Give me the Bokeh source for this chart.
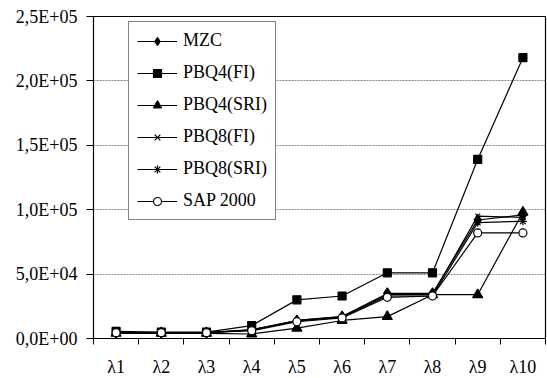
from bokeh.plotting import figure
from bokeh.models import FixedTicker, Legend, LegendItem
from bokeh.embed import file_html
from bokeh.resources import INLINE

categories = ["λ1", "λ2", "λ3", "λ4", "λ5", "λ6", "λ7", "λ8", "λ9", "λ10"]
mzc = [4500, 4500, 4500, 7000, 14000, 17000, 35000, 35000, 92000, 96000]
pbq4_fi = [5500, 5000, 5000, 10000, 30000, 33000, 51000, 51000, 139000, 218000]
pbq4_sri = [4000, 4000, 4000, 3500, 8000, 14000, 17000, 34000, 34000, 98000]
pbq8_fi = [4500, 4500, 4500, 6500, 14000, 17000, 34000, 34000, 95000, 94000]
pbq8_sri = [4500, 4500, 4500, 6500, 13500, 16500, 33000, 33000, 90000, 91000]
sap2000 = [4500, 4500, 4500, 6000, 13000, 16000, 32000, 33000, 82000, 82000]

y_ticks = [0, 50000, 100000, 150000, 200000, 250000]
y_labels = ["0,0E+00", "5,0E+04", "1,0E+05", "1,5E+05", "2,0E+05", "2,5E+05"]

xs = list(range(1, len(categories) + 1))
FONT = "Liberation Serif"

p = figure(width=547, height=378, output_backend="svg", toolbar_location=None,
           x_range=(0.5, 10.5), y_range=(0, 250000),
           frame_width=452, frame_height=322,
           min_border_left=93, min_border_top=16, min_border_right=2, min_border_bottom=40)
p.background_fill_color = "white"
p.border_fill_color = "white"
p.outline_line_color = "black"
p.outline_line_width = 1.2

# x axis
p.xaxis.ticker = FixedTicker(ticks=xs, minor_ticks=[x + 0.5 for x in range(0, 11)])
p.xaxis.major_label_overrides = {x: c for x, c in zip(xs, categories)}
p.xaxis.major_tick_line_color = None
p.xaxis.major_tick_out = 0
p.xaxis.major_tick_in = 0
p.xaxis.minor_tick_out = 6
p.xaxis.minor_tick_in = 0
p.xaxis.minor_tick_line_color = "black"
p.xaxis.major_label_standoff = 12
p.xaxis.major_label_text_font = FONT
p.xaxis.major_label_text_font_size = "18px"
p.xaxis.major_label_text_color = "black"
p.xaxis.axis_line_color = "black"

# y axis
p.yaxis.ticker = FixedTicker(ticks=y_ticks, minor_ticks=[])
p.yaxis.major_label_overrides = {t: l for t, l in zip(y_ticks, y_labels)}
p.yaxis.major_tick_out = 7
p.yaxis.major_tick_in = 0
p.yaxis.major_tick_line_color = "black"
p.yaxis.minor_tick_line_color = None
p.yaxis.major_label_standoff = 9
p.yaxis.major_label_text_font = FONT
p.yaxis.major_label_text_font_size = "18px"
p.yaxis.major_label_text_color = "black"
p.yaxis.axis_line_color = "black"

p.xgrid.grid_line_color = None
p.ygrid.grid_line_color = "#888888"
p.ygrid.grid_line_dash = "2 1"
p.ygrid.grid_line_width = 1

series = [
    ("MZC", mzc, "diamond", 11, "black"),
    ("PBQ4(FI)", pbq4_fi, "square", 8, "black"),
    ("PBQ4(SRI)", pbq4_sri, "triangle", 10, "black"),
    ("PBQ8(FI)", pbq8_fi, "x", 7, "black"),
    ("PBQ8(SRI)", pbq8_sri, "asterisk", 8, "black"),
    ("SAP 2000", sap2000, "circle", 8, "white"),
]

items = []
for name, ys, marker, size, fill in series:
    r1 = p.line(xs, ys, line_color="black", line_width=1.2)
    r2 = p.scatter(xs, ys, marker=marker, size=size, line_color="black",
                   fill_color=fill, line_width=1.2)
    items.append(LegendItem(label=name, renderers=[r1, r2]))

legend = Legend(items=items, location=(35, 118))
legend.label_text_font = FONT
legend.label_text_font_size = "18px"
legend.label_text_color = "black"
legend.border_line_color = "black"
legend.border_line_width = 1.2
legend.background_fill_color = "white"
legend.background_fill_alpha = 1
legend.glyph_width = 40
legend.glyph_height = 20
legend.label_height = 20
legend.label_standoff = 6
legend.spacing = 11
legend.padding = 8
legend.margin = 0
p.add_layout(legend, "center")

open("out.html", "w").write(file_html(p, INLINE))
